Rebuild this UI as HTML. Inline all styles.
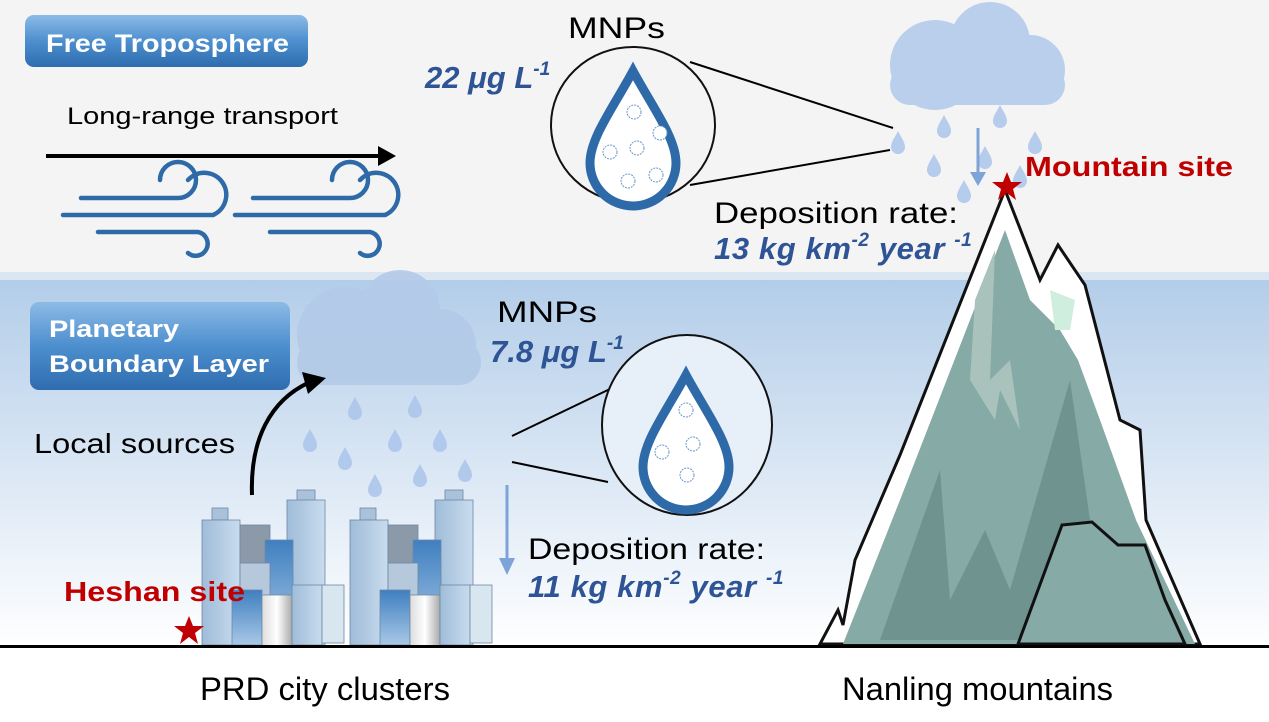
<!DOCTYPE html>
<html><head><meta charset="utf-8"><style>
body{margin:0;width:1269px;height:717px;overflow:hidden;background:#fff;font-family:"Liberation Sans",sans-serif}
</style></head><body>
<svg width="1269" height="717" viewBox="0 0 1269 717" xmlns="http://www.w3.org/2000/svg" font-family="Liberation Sans, sans-serif">
<defs>
<linearGradient id="sky" x1="0" y1="0" x2="0" y2="1">
<stop offset="0" stop-color="#b3cde9"/><stop offset="1" stop-color="#ffffff"/></linearGradient>
<linearGradient id="btn" x1="0" y1="0" x2="0" y2="1">
<stop offset="0" stop-color="#8dbbe6"/><stop offset="0.5" stop-color="#4d8fcf"/><stop offset="1" stop-color="#2e6cae"/></linearGradient>
<linearGradient id="bld" x1="0" y1="0" x2="1" y2="0">
<stop offset="0" stop-color="#9fbcd8"/><stop offset="1" stop-color="#c9dcee"/></linearGradient>
<linearGradient id="bld2" x1="0" y1="0" x2="0" y2="1">
<stop offset="0" stop-color="#3f7fc0"/><stop offset="1" stop-color="#a8c8e6"/></linearGradient>
<linearGradient id="gr" x1="0" y1="0" x2="1" y2="0">
<stop offset="0" stop-color="#ddd"/><stop offset="0.5" stop-color="#fff"/><stop offset="1" stop-color="#aaa"/></linearGradient>
<g id="drop"><path d="M0,-11 C3,-5 7,0 7,5 A7,7 0 0 1 -7,5 C-7,0 -3,-5 0,-11Z" fill="#a9c4ea" opacity="0.85"/></g>
<g id="bigdrop"><path d="M0,-62 C20,-25 43,5 43,30 A43,43 0 0 1 -43,30 C-43,5 -20,-25 0,-62Z" fill="#fff" stroke="#2e6aa8" stroke-width="9"/></g>
<g id="pc"><circle r="7" fill="#fff" stroke="#6a95c8" stroke-width="1" stroke-dasharray="2 1"/></g>
<g id="wind" fill="none" stroke="#2e6aa8" stroke-width="4.5" stroke-linecap="round">
<path d="M18,-2 H115 A18,18 0 1 0 97,-20"/><path d="M0,15 H150 A22,22 0 1 0 125,-20"/><path d="M35,32 H135 A12,12 0 1 1 125,53"/></g>
</defs>
<rect width="1269" height="275" fill="#f4f4f4"/>
<rect y="272" width="1269" height="8" fill="#dbe6f3"/>
<rect y="280" width="1269" height="367" fill="url(#sky)"/>
<rect y="647" width="1269" height="70" fill="#fff"/>

<rect x="25" y="15" width="283" height="52" rx="9" fill="url(#btn)"/>
<text x="46" y="52" font-size="25" font-weight="bold" fill="#fff" textLength="243" lengthAdjust="spacingAndGlyphs">Free Troposphere</text>
<rect x="30" y="302" width="260" height="88" rx="9" fill="url(#btn)"/>
<text x="49" y="337" font-size="24" font-weight="bold" fill="#fff" textLength="130" lengthAdjust="spacingAndGlyphs">Planetary</text>
<text x="49" y="372" font-size="24" font-weight="bold" fill="#fff" textLength="220" lengthAdjust="spacingAndGlyphs">Boundary Layer</text>

<text x="67" y="124" font-size="24" textLength="271" lengthAdjust="spacingAndGlyphs">Long-range transport</text>
<line x1="46" y1="156" x2="380" y2="156" stroke="#000" stroke-width="4"/>
<polygon points="378,146 396,156 378,166" fill="#000"/>
<use href="#wind" x="63" y="200"/>
<use href="#wind" x="235" y="200"/>

<text x="568" y="38" font-size="30" textLength="97" lengthAdjust="spacingAndGlyphs">MNPs</text>
<text x="425" y="88" font-size="31" font-weight="bold" font-style="italic" fill="#2e5496">22 μg L<tspan font-size="19" dy="-13">-1</tspan></text>
<line x1="690" y1="62" x2="893" y2="128" stroke="#000" stroke-width="2"/>
<line x1="690" y1="185" x2="890" y2="150" stroke="#000" stroke-width="2"/>
<ellipse cx="633" cy="125" rx="82" ry="78" fill="#f4f4f4" stroke="#111" stroke-width="2"/>
<use href="#bigdrop" x="633" y="133"/>
<use href="#pc" x="634" y="112"/><use href="#pc" x="660" y="133"/><use href="#pc" x="637" y="148"/><use href="#pc" x="610" y="152"/><use href="#pc" x="628" y="181"/><use href="#pc" x="656" y="175"/>

<g fill="#b9cfeb">
<circle cx="935" cy="65" r="45"/><circle cx="990" cy="42" r="40"/><circle cx="1030" cy="70" r="35"/>
<rect x="890" y="65" width="175" height="40" rx="20"/></g>
<use href="#drop" x="898" y="142"/><use href="#drop" x="944" y="126"/><use href="#drop" x="1000" y="116"/><use href="#drop" x="934" y="165"/><use href="#drop" x="985" y="157"/><use href="#drop" x="1035" y="142"/><use href="#drop" x="964" y="191"/><use href="#drop" x="1020" y="176"/>
<line x1="978" y1="128" x2="978" y2="178" stroke="#7ea3d8" stroke-width="3"/>
<polygon points="970,172 986,172 978,186" fill="#7ea3d8"/>
<text x="714" y="223" font-size="30" textLength="244" lengthAdjust="spacingAndGlyphs">Deposition rate:</text>
<text x="714" y="259" font-size="31" font-weight="bold" font-style="italic" fill="#2e5496" letter-spacing="0.6">13 kg km<tspan font-size="19" dy="-13">-2</tspan><tspan dy="13"> year </tspan><tspan font-size="19" dy="-13">-1</tspan></text>

<path d="M820,644 L838,610 L843,625 L855,560 L900,455 L1005,190 L1040,280 L1058,245 L1085,285 L1120,420 L1140,430 L1146,520 L1200,644Z" fill="#fff" stroke="#111" stroke-width="3"/>
<path d="M843,644 L900,500 L1005,230 L1030,300 L1060,330 L1078,360 L1100,420 L1136,520 L1195,644Z" fill="#86aaa6"/>
<path d="M880,640 L940,470 L950,600 L985,530 L1010,590 L1070,380 L1090,520 L1135,640Z" fill="#6f938f"/>
<path d="M975,300 L995,250 L990,380 L1010,360 L1020,430 L1000,390 L995,420 L970,380Z" fill="#a9c2bc"/>
<path d="M1050,290 L1075,300 L1070,330 L1055,330Z" fill="#cfeedd"/>
<path d="M1018,644 L1062,525 L1092,522 L1118,545 L1145,545 L1165,600 L1185,644Z" fill="#86aaa6" stroke="#111" stroke-width="3"/>
<polygon points="1007,172 1011,182 1022,182 1013,189 1016,200 1007,193 998,200 1001,189 992,182 1003,182" fill="#c00000"/>
<text x="1025" y="176" font-size="28" font-weight="bold" fill="#c00000" textLength="208" lengthAdjust="spacingAndGlyphs">Mountain site</text>

<g fill="#b3cae8" opacity="0.9">
<circle cx="345" cy="335" r="48"/><circle cx="400" cy="310" r="40"/><circle cx="440" cy="345" r="36"/>
<rect x="297" y="340" width="184" height="45" rx="22"/></g>
<use href="#drop" x="355" y="408"/><use href="#drop" x="415" y="406"/><use href="#drop" x="310" y="440"/><use href="#drop" x="395" y="440"/><use href="#drop" x="440" y="440"/><use href="#drop" x="345" y="458"/><use href="#drop" x="465" y="470"/><use href="#drop" x="375" y="485"/><use href="#drop" x="420" y="475"/>
<path d="M252,495 C250,440 270,400 310,382" fill="none" stroke="#000" stroke-width="4"/>
<polygon points="302,372 326,378 308,394" fill="#000"/>
<text x="34" y="453" font-size="28" textLength="201" lengthAdjust="spacingAndGlyphs">Local sources</text>

<text x="497" y="322" font-size="30" textLength="100" lengthAdjust="spacingAndGlyphs">MNPs</text>
<text x="490" y="362" font-size="31" font-weight="bold" font-style="italic" fill="#2e5496">7.8 μg L<tspan font-size="19" dy="-13">-1</tspan></text>
<line x1="512" y1="436" x2="612" y2="388" stroke="#000" stroke-width="2"/>
<line x1="512" y1="462" x2="608" y2="482" stroke="#000" stroke-width="2"/>
<ellipse cx="687" cy="425" rx="85" ry="90" fill="#e7eff8" stroke="#111" stroke-width="2"/>
<use href="#bigdrop" x="686" y="437"/>
<use href="#pc" x="686" y="410"/><use href="#pc" x="662" y="452"/><use href="#pc" x="693" y="444"/><use href="#pc" x="687" y="475"/>
<line x1="507" y1="485" x2="507" y2="562" stroke="#7ea3d8" stroke-width="3"/>
<polygon points="499,558 515,558 507,575" fill="#7ea3d8"/>
<text x="528" y="559" font-size="30" textLength="237" lengthAdjust="spacingAndGlyphs">Deposition rate:</text>
<text x="528" y="597" font-size="31" font-weight="bold" font-style="italic" fill="#2e5496" letter-spacing="0.6">11 kg km<tspan font-size="19" dy="-13">-2</tspan><tspan dy="13"> year </tspan><tspan font-size="19" dy="-13">-1</tspan></text>

<g stroke="#6d88a8" stroke-width="0.8">
<rect x="212" y="508" width="16" height="12" fill="#a9c2da"/>
<rect x="202" y="520" width="38" height="125" fill="url(#bld)"/>
<rect x="240" y="525" width="30" height="80" fill="#8c99a8"/>
<rect x="297" y="490" width="18" height="17" fill="#a9c2da"/>
<rect x="287" y="500" width="38" height="145" fill="url(#bld)"/>
<rect x="265" y="540" width="28" height="100" fill="url(#bld2)"/>
<rect x="240" y="563" width="30" height="80" fill="#b5c8dc"/>
<rect x="232" y="590" width="30" height="55" fill="url(#bld2)"/>
<rect x="262" y="595" width="30" height="52" fill="url(#gr)"/>
<rect x="292" y="585" width="30" height="60" fill="url(#bld)"/>
<rect x="322" y="585" width="22" height="58" fill="#d7e6ef"/>
<rect x="360" y="508" width="16" height="12" fill="#a9c2da"/>
<rect x="350" y="520" width="38" height="125" fill="url(#bld)"/>
<rect x="388" y="525" width="30" height="80" fill="#8c99a8"/>
<rect x="445" y="490" width="18" height="17" fill="#a9c2da"/>
<rect x="435" y="500" width="38" height="145" fill="url(#bld)"/>
<rect x="413" y="540" width="28" height="100" fill="url(#bld2)"/>
<rect x="388" y="563" width="30" height="80" fill="#b5c8dc"/>
<rect x="380" y="590" width="30" height="55" fill="url(#bld2)"/>
<rect x="410" y="595" width="30" height="52" fill="url(#gr)"/>
<rect x="440" y="585" width="30" height="60" fill="url(#bld)"/>
<rect x="470" y="585" width="22" height="58" fill="#d7e6ef"/>
</g>
<text x="64" y="601" font-size="28" font-weight="bold" fill="#c00000" textLength="181" lengthAdjust="spacingAndGlyphs">Heshan site</text>
<polygon points="189,616 193,626 204,626 195,633 198,644 189,637 180,644 183,633 174,626 185,626" fill="#c00000"/>

<rect x="0" y="645" width="1269" height="3" fill="#000"/>
<text x="200" y="700" font-size="32" textLength="250" lengthAdjust="spacingAndGlyphs">PRD city clusters</text>
<text x="842" y="700" font-size="32" textLength="271" lengthAdjust="spacingAndGlyphs">Nanling mountains</text>
</svg>
</body></html>
